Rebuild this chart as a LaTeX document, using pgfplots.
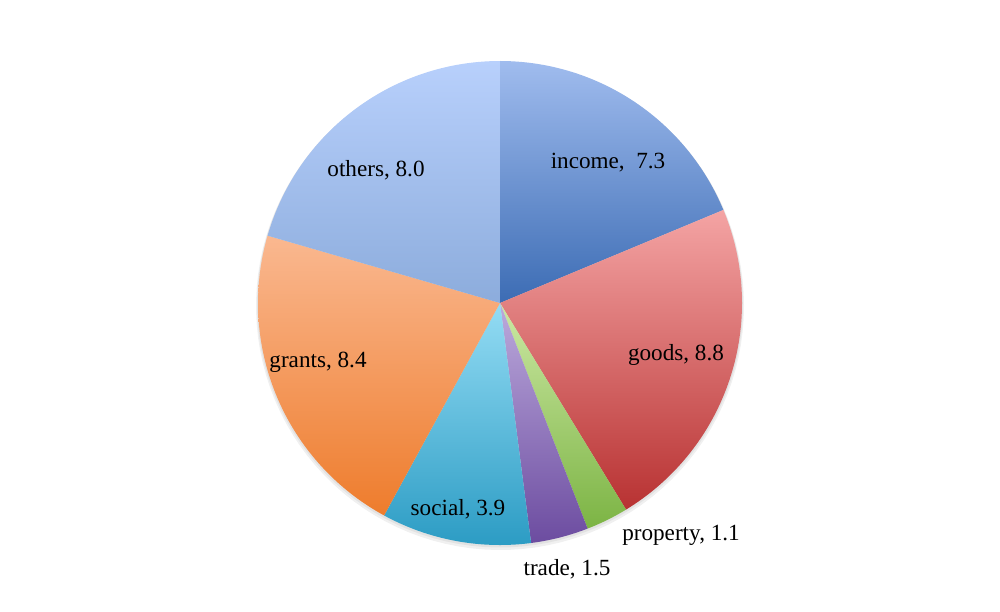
\documentclass[border=0pt]{standalone}
\usepackage{pgfplots}
\usepackage{pgfplotstable}
\pgfplotsset{compat=1.18}
\usepackage{fontspec}
\setmainfont{Liberation Serif}
\definecolor{s0t}{HTML}{A0BCEE}\definecolor{s0b}{HTML}{3C6CB4}
\definecolor{s1t}{HTML}{F4A4A4}\definecolor{s1b}{HTML}{B83232}
\definecolor{s2t}{HTML}{CCE8A4}\definecolor{s2b}{HTML}{7CB444}
\definecolor{s3t}{HTML}{BCAADC}\definecolor{s3b}{HTML}{6C4CA0}
\definecolor{s4t}{HTML}{94DCF4}\definecolor{s4b}{HTML}{2C9CC4}
\definecolor{s5t}{HTML}{FAB890}\definecolor{s5b}{HTML}{EE7C2C}
\definecolor{s6t}{HTML}{B8D0FC}\definecolor{s6b}{HTML}{8CACDC}
\pgfplotstableread{
label value
income 7.3
goods 8.8
property 1.1
trade 1.5
social 3.9
grants 8.4
others 8.0
}\piedata
\begin{document}
\begin{tikzpicture}
\begin{axis}[
  hide axis, scale only axis, width=518pt, height=316.5pt,
  xmin=0, xmax=1000, ymin=0, ymax=611, clip=false]
\addplot[draw=none] coordinates {(0,0) (1000,611)};
% faint shadow
\addplot[draw=none, fill=black, fill opacity=0.06, domain=0:360, samples=120, variable=\t]
  ({500+244*cos(\t)},{305+244*sin(\t)}) -- cycle;
\addplot[draw=none, fill=black, fill opacity=0.06, domain=0:360, samples=120, variable=\t]
  ({500+243*cos(\t)},{306.5+243*sin(\t)}) -- cycle;
\xdef\astart{90}
\pgfplotsinvokeforeach{0,...,6}{
  \pgfplotstablegetelem{#1}{value}\of\piedata
  \pgfmathsetmacro\aend{\astart - \pgfplotsretval*360/39}
  \addplot[draw=none, top color=s#1t, bottom color=s#1b, domain=\astart:\aend, samples=80, variable=\t]
    ({500+242*cos(\t)},{308+242*sin(\t)}) -- (axis cs:500,308) -- cycle;
  \xdef\astart{\aend}
}
\node[font=\fontsize{12}{14}\selectfont] at (axis cs:608,448) {income,\ \ 7.3};
\node[font=\fontsize{12}{14}\selectfont] at (axis cs:676,256) {goods, 8.8};
\node[font=\fontsize{12}{14}\selectfont] at (axis cs:681,76) {property, 1.1};
\node[font=\fontsize{12}{14}\selectfont] at (axis cs:567,42) {trade, 1.5};
\node[font=\fontsize{12}{14}\selectfont] at (axis cs:458,102) {social, 3.9};
\node[font=\fontsize{12}{14}\selectfont] at (axis cs:318,249) {grants, 8.4};
\node[font=\fontsize{12}{14}\selectfont] at (axis cs:376,441) {others, 8.0};
\end{axis}
\end{tikzpicture}
\end{document}
